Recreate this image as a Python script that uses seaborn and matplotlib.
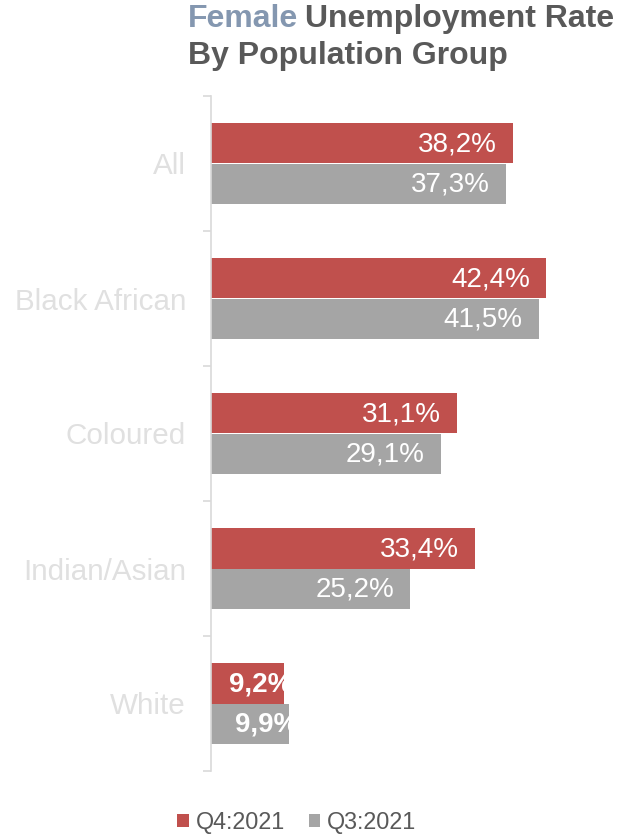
import matplotlib
matplotlib.use("Agg")
import matplotlib.pyplot as plt
from matplotlib.patches import Patch
import seaborn as sns
import pandas as pd

# Female unemployment rate (%) by population group
groups = ["All", "Black African", "Coloured", "Indian/Asian", "White"]
periods = ["Q4:2021", "Q3:2021"]
q4_2021 = [38.2, 42.4, 31.1, 33.4, 9.2]
q3_2021 = [37.3, 41.5, 29.1, 25.2, 9.9]

colors = {"Q4:2021": "#c0504d", "Q3:2021": "#a5a5a5"}

df = pd.DataFrame({
    "group": groups * 2,
    "period": [periods[0]] * len(groups) + [periods[1]] * len(groups),
    "rate": q4_2021 + q3_2021,
})

sns.set_theme(style="white")
plt.rcParams["font.family"] = ["Liberation Sans", "DejaVu Sans"]

W, H = 629, 836
fig = plt.figure(figsize=(W / 100, H / 100), dpi=100)
ax = fig.add_axes([211 / W, 65 / H, 395 / W, 675 / H])

sns.barplot(data=df, x="rate", y="group", hue="period", orient="h",
            order=groups, hue_order=periods, palette=colors,
            width=0.593, saturation=1, legend=False, linewidth=0, ax=ax)

ax.set_xlim(0, 50)
ax.set_ylim(4.5, -0.5)
ax.set_xlabel("")
ax.set_ylabel("")
ax.set_xticks([])

# Spines and category separators
for side in ["top", "right", "bottom"]:
    ax.spines[side].set_visible(False)
ax.spines["left"].set_color("#d9d9d9")
ax.spines["left"].set_linewidth(1.2)
ax.set_yticks([i + 0.5 for i in range(-1, len(groups))], minor=True)
ax.tick_params(axis="y", which="minor", length=6, width=1.2, color="#d9d9d9", left=True)
ax.tick_params(axis="y", which="major", length=0, pad=18, labelsize=21.3, labelcolor="#e0e0e0")

# Value labels at the inside end of each bar
for container, period in zip(ax.containers, periods):
    for bar, val in zip(container, df.loc[df.period == period, "rate"]):
        small = val < 15
        txt = f"{val:.1f}%".replace(".", ",")
        ax.annotate(txt, xy=(bar.get_width(), bar.get_y() + bar.get_height() / 2),
                    xytext=(9 if small else -16, -1), textcoords="offset pixels",
                    ha="right", va="center", color="white", fontsize=20,
                    fontweight="bold" if small else "normal")

# Two-tone title
t1 = fig.text(188 / W, 1 - 27 / H, "Female", color="#8497b0", fontsize=23,
              fontweight="bold", ha="left", va="baseline")
fig.canvas.draw()
bb = t1.get_window_extent()
fig.text((bb.x1 + 7) / W, 1 - 27 / H, "Unemployment Rate", color="#595959",
         fontsize=23, fontweight="bold", ha="left", va="baseline")
fig.text(188 / W, 1 - 64 / H, "By Population Group", color="#595959",
         fontsize=23, fontweight="bold", ha="left", va="baseline")

handles = [Patch(facecolor=colors[p], edgecolor="none", label=p) for p in periods]
fig.legend(handles=handles, loc="center", bbox_to_anchor=(297 / W, 1 - 822 / H),
           ncol=2, frameon=False, fontsize=16.8, labelcolor="#595959",
           handlelength=0.5, handleheight=0.5, handletextpad=0.3, columnspacing=1.0)

fig.savefig("out.png", dpi=100)
